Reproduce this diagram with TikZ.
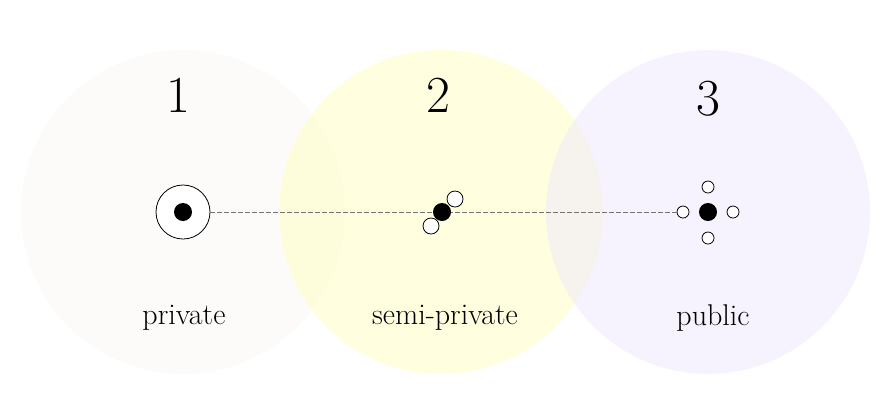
\documentclass[tikz,border=0pt]{standalone}
\usetikzlibrary{positioning}
\definecolor{privfill}{RGB}{250,248,244}
\definecolor{semifill}{RGB}{255,255,192}
\definecolor{pubfill}{RGB}{238,230,253}

\begin{document}
\begin{tikzpicture}[x=0.5pt,y=-0.5pt,
  zone/.style={fill opacity=0.5},
  hole/.style={circle,draw,fill=white,inner sep=0pt,line width=0.4pt},
  dot/.style={circle,fill=black,inner sep=0pt,minimum size=9pt},
  numlabel/.style={font=\fontsize{26}{30}\selectfont},
  zonelabel/.style={font=\fontsize{15}{18}\selectfont}]
  \useasboundingbox (0,0) rectangle (892,409);

  \fill[privfill,zone] (183,212) circle (81pt);
  \fill[semifill,zone] (441,212) circle (81pt);
  \fill[pubfill,zone] (708,212) circle (81pt);

  \node[numlabel] (num1) at (178,95) {1};
  \node[numlabel] (num2) at (438,95) {2};
  \node[numlabel] (num3) at (708,99) {3};

  \node[zonelabel] (private) at (184,318) {private};
  \node[zonelabel] (semi) at (445,318) {semi-private};
  \node[zonelabel] (public) at (713,318) {public};

  \node[hole,minimum size=27pt] (privring) at (183,212) {};
  \node[dot] (privdot) at (privring) {};

  \node[dot] (pubdot) at (708,212) {};
  \node[hole,minimum size=6pt,left=12.5pt of pubdot.center,anchor=center] (publeft) {};
  \node[hole,minimum size=6pt,right=12.5pt of pubdot.center,anchor=center] (pubright) {};
  \node[hole,minimum size=6pt,above=12.5pt of pubdot.center,anchor=center] (pubtop) {};
  \node[hole,minimum size=6pt,below=13pt of pubdot.center,anchor=center] (pubbottom) {};

  \draw[black!55,line width=0.5pt,dash pattern=on 2.5pt off 1pt] (privring) -- (publeft);

  \node[hole,minimum size=8pt] (semiup) at (455,199) {};
  \node[hole,minimum size=8pt] (semidown) at (431,226) {};
  \node[dot] (semidot) at (442,212) {};
\end{tikzpicture}
\end{document}
